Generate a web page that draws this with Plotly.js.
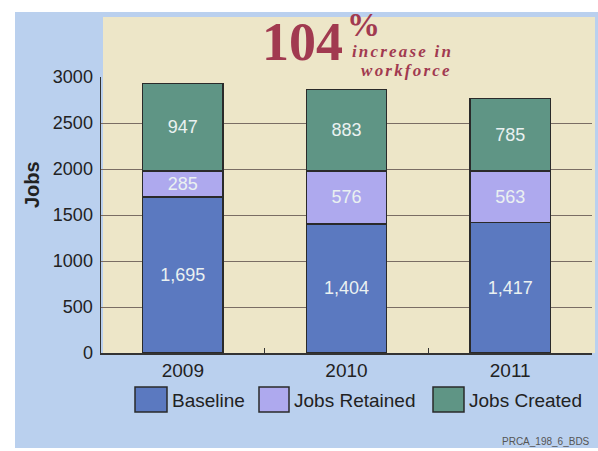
<!DOCTYPE html>
<html><head><meta charset="utf-8">
<script src="https://cdn.plot.ly/plotly-3.0.1.min.js"></script>
<style>html,body{margin:0;padding:0;background:#fff;}#chart{width:598px;height:451px;}
#chart g.annotation[data-index="2"] text, #chart g.annotation[data-index="3"] text{letter-spacing:2.2px;}
</style>
</head><body><div id="chart"></div>
<script>
const years = ['2009', '2010', '2011'];
const seriesNames = ['Baseline', 'Jobs Retained', 'Jobs Created'];
const baseline = [1695, 1404, 1417];
const jobsRetained = [285, 576, 563];
const jobsCreated = [947, 883, 785];
const seriesColors = ['#5b79c0', '#aea9ee', '#5f9585'];
const yTicks = [0, 500, 1000, 1500, 2000, 2500, 3000];

const L = 101, R = 592, T = 77, B = 353, W = 598, H = 451;
const px = v => (v - L) / (R - L);
const py = v => (B - v) / (B - T);

const values = [baseline, jobsRetained, jobsCreated];
const traces = values.map((vals, i) => ({
  type: 'bar', x: years, y: vals, name: seriesNames[i],
  marker: {color: seriesColors[i], line: {color: '#2a2a2a', width: 1.5}},
  texttemplate: '%{y:,}', textposition: 'inside', insidetextanchor: 'middle', textangle: 0,
  textfont: {family: 'Liberation Sans, Arial, sans-serif', size: 18, color: '#eaf1f1'},
  showlegend: false, hoverinfo: 'skip'
}));

const serif = 'Liberation Serif, Times New Roman, serif';
const red = '#a13a50';
const shapes = [
  {type: 'rect', xref: 'paper', yref: 'paper', x0: px(15), x1: px(598), y0: py(448), y1: py(12),
   fillcolor: '#bad0ee', line: {width: 0}, layer: 'below'},
  {type: 'rect', xref: 'paper', yref: 'paper', x0: px(103), x1: px(595), y0: py(353), y1: py(17),
   fillcolor: '#ede6c8', line: {width: 0}, layer: 'below'}
];
const annotations = [
  {xref: 'paper', yref: 'paper', x: px(345), y: py(42), xanchor: 'right', yanchor: 'middle', showarrow: false,
   text: '<b>104</b>', font: {family: serif, size: 54, color: red}},
  {xref: 'paper', yref: 'paper', x: px(346), y: py(44), xanchor: 'left', yanchor: 'bottom', showarrow: false,
   borderpad: 0, text: '<b>%</b>', font: {family: serif, size: 33, color: red}},
  {xref: 'paper', yref: 'paper', x: px(402), y: py(62), xanchor: 'center', yanchor: 'bottom', showarrow: false,
   borderpad: 0, text: '<b><i>increase in</i></b>', font: {family: serif, size: 17, color: red}},
  {xref: 'paper', yref: 'paper', x: px(406), y: py(60), xanchor: 'center', yanchor: 'top', showarrow: false,
   borderpad: 0, text: '<b><i>workforce</i></b>', font: {family: serif, size: 17, color: red}},
  {xref: 'paper', yref: 'paper', x: px(32), y: py(185), xanchor: 'center', yanchor: 'middle', showarrow: false,
   textangle: -90, text: '<b>Jobs</b>', font: {family: 'Liberation Sans, Arial, sans-serif', size: 20, color: '#222'}},
  {xref: 'paper', yref: 'paper', x: px(592), y: py(441), xanchor: 'right', yanchor: 'middle', showarrow: false,
   text: 'PRCA_198_6_BDS', font: {family: 'Liberation Sans, Arial, sans-serif', size: 10, color: '#555'}}
];
// custom legend
const legendBoxes = [[135, 167], [259, 289], [433, 464]];
seriesNames.forEach((n, i) => {
  shapes.push({type: 'rect', xref: 'paper', yref: 'paper', x0: px(legendBoxes[i][0]), x1: px(legendBoxes[i][1]),
    y0: py(412), y1: py(387), fillcolor: seriesColors[i], line: {color: '#2a2a2a', width: 1.5}});
  annotations.push({xref: 'paper', yref: 'paper', x: px(legendBoxes[i][1] + 3), y: py(401), xanchor: 'left', yanchor: 'middle',
    showarrow: false, text: n, font: {family: 'Liberation Sans, Arial, sans-serif', size: 19, color: '#222'}});
});

const layout = {
  width: W, height: H, margin: {l: L, r: W - R, t: T, b: H - B, pad: 0},
  paper_bgcolor: '#ffffff', plot_bgcolor: '#ede6c8',
  barmode: 'stack', bargap: 0.51,
  font: {family: 'Liberation Sans, Arial, sans-serif', color: '#222'},
  xaxis: {type: 'category', showline: true, linecolor: '#333', linewidth: 1.5, mirror: false,
    ticks: 'inside', tickson: 'boundaries', ticklen: 5, tickcolor: '#333', showgrid: false,
    tickfont: {size: 19, color: '#222'}, fixedrange: true},
  yaxis: {range: [0, 3000], tickvals: yTicks, ticktext: yTicks.map(String), showline: true, linecolor: '#333', linewidth: 1.5,
    showgrid: true, gridcolor: '#7a6d64', gridwidth: 1, zeroline: false, ticks: '', ticklabelstandoff: 3,
    tickfont: {size: 18, color: '#222'}, fixedrange: true},
  shapes: shapes, annotations: annotations, showlegend: false
};
Plotly.newPlot('chart', traces, layout, {displayModeBar: false, staticPlot: true});
</script></body></html>
